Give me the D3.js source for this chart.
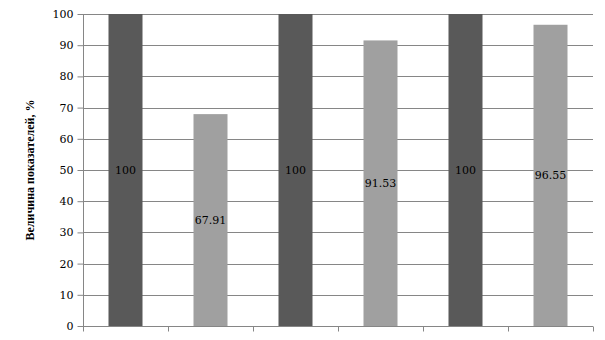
<!DOCTYPE html>
<html>
<head>
<meta charset="utf-8">
<script src="https://cdn.jsdelivr.net/npm/d3@7"></script>
<style>
  body { margin: 0; background: #fff; }
</style>
</head>
<body>
<script>
// chart data
var categories = ["a1", "b1", "a2", "b2", "a3", "b3"];
var values = [100, 67.91, 100, 91.53, 100, 96.55];
var labels = ["100", "67.91", "100", "91.53", "100", "96.55"];
var barColors = ["#595959", "#a0a0a0"];
var yTicks = [0, 10, 20, 30, 40, 50, 60, 70, 80, 90, 100];
var yTitle = "Величина показателей, %";

var margin = {top: 14, right: 12, bottom: 14, left: 83},
    width = 605 - margin.left - margin.right,
    height = 340 - margin.top - margin.bottom;

var x = d3.scaleBand().domain(categories).range([0, width]).paddingInner(0.6).paddingOuter(0.3);
var y = d3.scaleLinear().domain([0, 100]).range([height, 0]);

var svg = d3.select("body").append("svg")
    .attr("width", 605)
    .attr("height", 340)
  .append("g")
    .attr("transform", "translate(" + margin.left + "," + margin.top + ")");

// gridlines
svg.append("g")
    .selectAll("line")
    .data(yTicks)
    .enter()
    .append("line")
    .attr("x1", 0)
    .attr("x2", width)
    .attr("y1", function(d){ return Math.round(y(d)) + 0.5; })
    .attr("y2", function(d){ return Math.round(y(d)) + 0.5; })
    .style("stroke", "#868686")
    .style("stroke-width", 1);

// bars
svg.selectAll(".bar")
    .data(values)
    .enter()
    .append("rect")
    .classed("bar", true)
    .attr("x", function(d, i){ return x(categories[i]); })
    .attr("width", x.bandwidth())
    .attr("y", function(d){ return y(d); })
    .attr("height", function(d){ return height - y(d); })
    .style("fill", function(d, i){ return barColors[i % 2]; });

// value labels
svg.selectAll(".lbl")
    .data(values)
    .enter()
    .append("text")
    .classed("lbl", true)
    .attr("x", function(d, i){ return x(categories[i]) + x.bandwidth() / 2; })
    .attr("y", function(d){ return (y(d) + height) / 2; })
    .attr("dy", "0.35em")
    .attr("text-anchor", "middle")
    .style("font-family", "DejaVu Serif")
    .style("font-size", "11px")
    .style("fill", "#000")
    .text(function(d, i){ return labels[i]; });

// y axis
var yAxis = svg.append("g")
    .attr("transform", "translate(0.5,0)")
    .call(d3.axisLeft(y).tickValues(yTicks).tickSize(6).tickPadding(4).tickFormat(d3.format("d")));
yAxis.selectAll("path, line").style("stroke", "#868686");
yAxis.selectAll("text")
    .style("font-family", "DejaVu Serif")
    .style("font-size", "11px")
    .style("fill", "#000");
yAxis.select(".domain").attr("d", "M0," + height + "V0");

// x axis (category boundary ticks only)
var bounds = d3.range(categories.length + 1).map(function(i){ return i * width / categories.length; });
var xAxis = svg.append("g")
    .attr("transform", "translate(0," + (Math.round(height) + 0.5) + ")");
xAxis.append("line")
    .attr("x1", 0).attr("x2", width)
    .style("stroke", "#868686");
xAxis.selectAll(".xt")
    .data(bounds)
    .enter()
    .append("line")
    .classed("xt", true)
    .attr("x1", function(d){ return Math.round(d) + 0.5; })
    .attr("x2", function(d){ return Math.round(d) + 0.5; })
    .attr("y1", 0)
    .attr("y2", 5)
    .style("stroke", "#868686");

// y axis title
svg.append("text")
    .attr("transform", "rotate(-90)")
    .attr("x", -height / 2)
    .attr("y", -margin.left + 34)
    .attr("text-anchor", "middle")
    .style("font-family", "Liberation Serif")
    .style("font-weight", "bold")
    .style("font-size", "12px")
    .text(yTitle);
</script>
</body>
</html>
